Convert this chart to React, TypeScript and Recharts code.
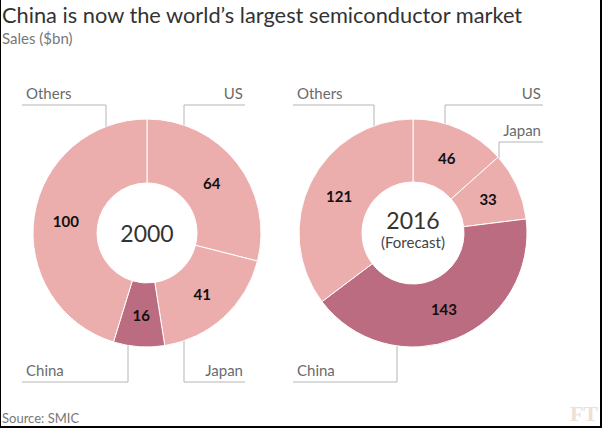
import { PieChart, Pie, Cell } from 'recharts'

const REGIONS = ['US', 'Japan', 'China', 'Others']
const SALES_2000 = [64, 41, 16, 100]
const SALES_2016 = [46, 33, 143, 121]

const LIGHT = '#ecadad'
const DARK = '#bc6c80'
const SLICE_COLORS = [LIGHT, LIGHT, DARK, LIGHT]
const FONT = 'Lato, "Open Sans", sans-serif'

// leader line layout per slice: dx = vertical line offset from centre,
// row = underline y, end = far end of underline relative to centre
type Leader = { dx: number; row: number; end: number }

const LEADERS_2000: Leader[] = [
  { dx: 37, row: 105, end: 98 },
  { dx: 37, row: 382, end: 98 },
  { dx: -19, row: 382, end: -125 },
  { dx: -41, row: 105, end: -125 },
]

const LEADERS_2016: Leader[] = [
  { dx: 32, row: 105, end: 130 },
  { dx: 86, row: 142, end: 130 },
  { dx: -16, row: 382, end: -120 },
  { dx: -39, row: 105, end: -120 },
]

const data2000 = REGIONS.map((name, i) => ({ name, value: SALES_2000[i] }))
const data2016 = REGIONS.map((name, i) => ({ name, value: SALES_2016[i] }))

function makeLabel(leaders: Leader[], year: string, note?: string) {
  return (p: any) => {
    const { cx, cy, midAngle, innerRadius, outerRadius, index, value, name } = p
    const RAD = Math.PI / 180
    const r = (innerRadius + outerRadius) / 2
    const x = cx + r * Math.cos(-midAngle * RAD)
    const y = cy + r * Math.sin(-midAngle * RAD)
    const L = leaders[index]
    const lx = cx + L.dx
    const ringY = cy + (L.row < cy ? -1 : 1) * Math.sqrt(outerRadius * outerRadius - L.dx * L.dx)
    const right = L.end > 0
    const ex = cx + L.end
    return (
      <g>
        <text x={x} y={y} textAnchor="middle" dominantBaseline="central"
          fontFamily={FONT} fontWeight={700} fontSize={15} fill="#111">
          {value}
        </text>
        <polyline points={`${ex},${L.row} ${lx},${L.row} ${lx},${ringY}`}
          fill="none" stroke="#b5b5b5" strokeWidth={1} />
        <text x={right ? ex - 2 : ex + 4} y={L.row - 6} textAnchor={right ? 'end' : 'start'}
          fontFamily={FONT} fontSize={15} fill="#6b6b6b">
          {name}
        </text>
        {index === 0 && (
          <g>
            <text x={cx} y={note ? cy - 13 : cy} textAnchor="middle" dominantBaseline="central"
              fontFamily={FONT} fontSize={23} fill="#333">
              {year}
            </text>
            {note && (
              <text x={cx} y={cy + 9} textAnchor="middle" dominantBaseline="central"
                fontFamily={FONT} fontSize={15} fill="#444">
                {note}
              </text>
            )}
          </g>
        )}
      </g>
    )
  }
}

export default function App() {
  return (
    <div style={{
      position: 'absolute', left: 0, top: 0, width: 602, height: 428, background: '#fff',
      boxSizing: 'border-box', borderLeft: '1px solid #000', borderRight: '2px solid #000',
      borderBottom: '2px solid #000', fontFamily: FONT, overflow: 'hidden',
    }}>
      <div style={{ position: 'absolute', left: 1, top: 0, fontSize: 21.8, color: '#333', lineHeight: '30px', whiteSpace: 'nowrap' }}>
        China is now the world’s largest semiconductor market
      </div>
      <div style={{ position: 'absolute', left: 1, top: 28, fontSize: 15, color: '#777', lineHeight: '20px' }}>
        Sales ($bn)
      </div>
      <div style={{ position: 'absolute', left: -1, top: 0 }}>
        <PieChart width={602} height={428} margin={{ top: 0, right: 0, bottom: 0, left: 0 }}>
          <Pie data={data2000} dataKey="value" nameKey="name" cx={147} cy={233}
            innerRadius={50} outerRadius={114} startAngle={90} endAngle={-270}
            stroke="#fff" strokeWidth={1} isAnimationActive={false}
            labelLine={false} label={makeLabel(LEADERS_2000, '2000')}>
            {data2000.map((d, i) => <Cell key={d.name} fill={SLICE_COLORS[i]} />)}
          </Pie>
          <Pie data={data2016} dataKey="value" nameKey="name" cx={413} cy={233}
            innerRadius={51} outerRadius={114} startAngle={90} endAngle={-270}
            stroke="#fff" strokeWidth={1} isAnimationActive={false}
            labelLine={false} label={makeLabel(LEADERS_2016, '2016', '(Forecast)')}>
            {data2016.map((d, i) => <Cell key={d.name} fill={SLICE_COLORS[i]} />)}
          </Pie>
        </PieChart>
      </div>
      <div style={{ position: 'absolute', left: 1, top: 410, fontSize: 13, color: '#777', lineHeight: '16px' }}>
        Source: SMIC
      </div>
      <div style={{
        position: 'absolute', right: 2, top: 403, fontSize: 22, color: '#ebe1d6',
        fontFamily: '"Liberation Serif", serif', fontWeight: 700, lineHeight: '22px',
      }}>
        FT
      </div>
    </div>
  )
}
